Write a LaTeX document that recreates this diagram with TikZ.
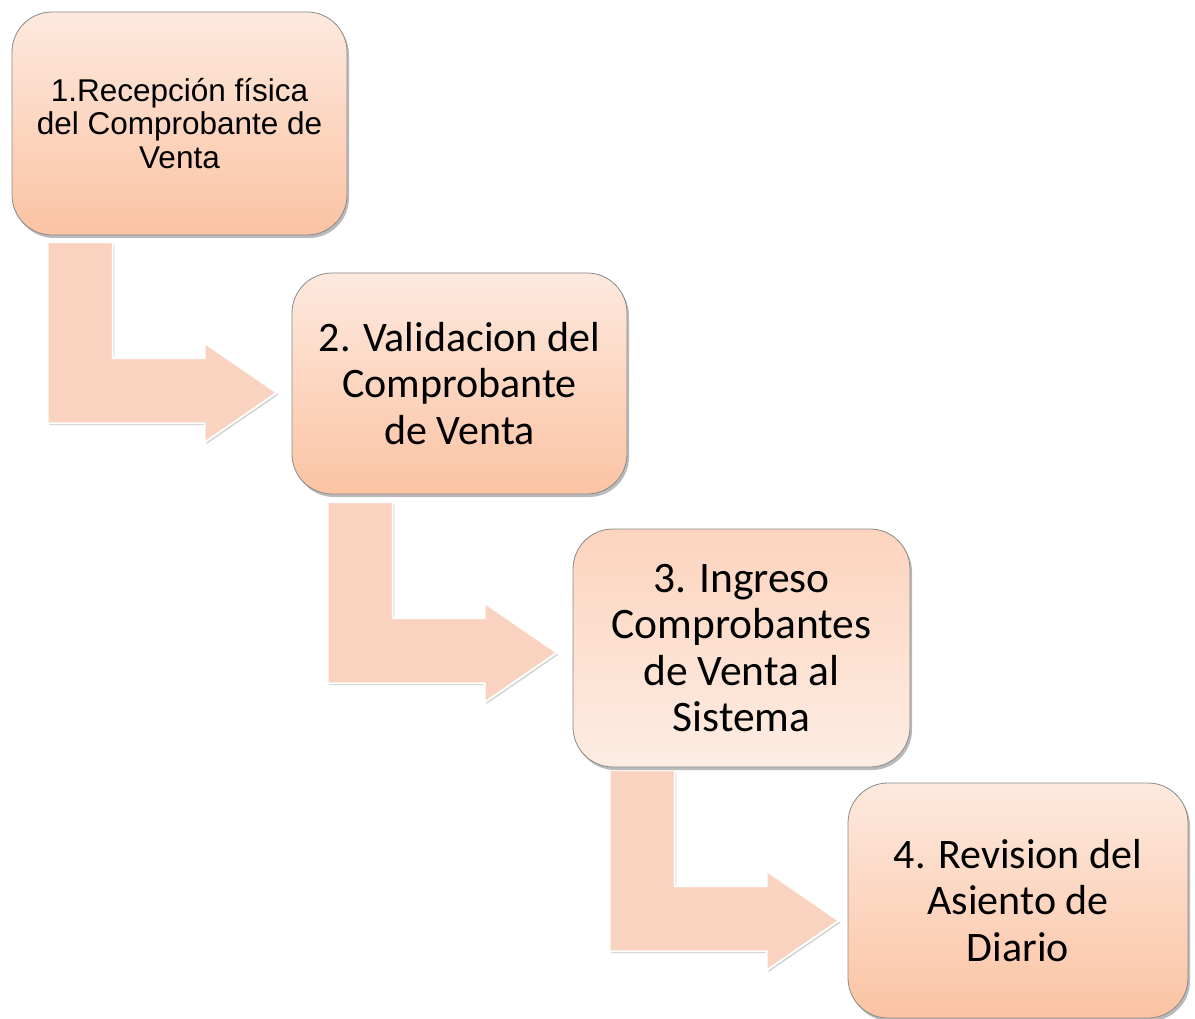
\documentclass[tikz,border=0pt]{standalone}
\usepackage{fontspec}
\setmainfont{Liberation Sans}
\newfontfamily\calib{Carlito}
\usetikzlibrary{shadows}
\definecolor{boxtop}{HTML}{FDE9DE}
\definecolor{boxbot}{HTML}{FBC3A3}
\definecolor{arrowfill}{HTML}{F9D3BF}
\definecolor{boxline}{HTML}{8A8A8A}
\tikzset{
  stepbox/.style={rectangle, rounded corners=40pt, draw=boxline, line width=0.8pt,
    top color=boxtop, bottom color=boxbot, align=center, inner sep=0pt,
    drop shadow={shadow xshift=2pt, shadow yshift=-3pt, opacity=0.45, fill=black!60}},
  armfont/.style={font=\fontsize{31.5}{33.5}\selectfont},
  calfont/.style={font=\calib\fontsize{42}{46.5}\selectfont},
  calbigfont/.style={font=\calib\fontsize{43.5}{46.5}\selectfont},
  arrowbody/.style={fill=arrowfill, draw=white, line width=1.8pt, line join=miter,
    drop shadow={shadow xshift=1.5pt, shadow yshift=-2pt, opacity=0.35, fill=black!50}},
  bentarrow/.pic={
    \path[arrowbody] (0,0) -- (65,0) -- (65,116) -- (157,116) -- (157,101)
      -- (229,150.5) -- (157,200) -- (157,181) -- (0,181) -- cycle;
  }
}
\begin{document}
\begin{tikzpicture}[x=1pt,y=-1pt]
\useasboundingbox[fill=white] (0,0) rectangle (1195,1019);
% box placement (coordinates only, nodes drawn after arrows)
\coordinate (c1) at (179.5,123.5);
\coordinate (c2) at (459.5,383.5);
\coordinate (c3) at (741.5,648);
\coordinate (c4) at (1018,900.5);
% invisible helper nodes for anchoring arrows
\node[minimum width=335pt, minimum height=223pt, inner sep=0pt] (h1) at (c1) {};
\node[minimum width=335pt, minimum height=221pt, inner sep=0pt] (h2) at (c2) {};
\node[minimum width=337pt, minimum height=238pt, inner sep=0pt] (h3) at (c3) {};
% bent arrows (behind the boxes)
\path ([shift={(36,7)}]h1.south west) pic {bentarrow};
\path ([shift={(36,8)}]h2.south west) pic {bentarrow};
\path ([shift={(37,3)}]h3.south west) pic {bentarrow};
% boxes
\node[stepbox, armfont, minimum width=335pt, minimum height=223pt] (b1) at (c1)
  {1.Recepción física\\del Comprobante de\\Venta};
\node[stepbox, calfont, minimum width=335pt, minimum height=221pt] (b2) at (c2)
  {2. Validacion del\\Comprobante\\de Venta};
\node[stepbox, calbigfont, minimum width=337pt, minimum height=238pt,
  top color=boxbot!55!boxtop, bottom color=boxtop!85!white] (b3) at (c3)
  {3. Ingreso\\Comprobantes\\de Venta al\\Sistema};
\node[stepbox, calfont, minimum width=340pt, minimum height=235pt] (b4) at (c4)
  {4. Revision del\\Asiento de\\Diario};
\end{tikzpicture}
\end{document}
